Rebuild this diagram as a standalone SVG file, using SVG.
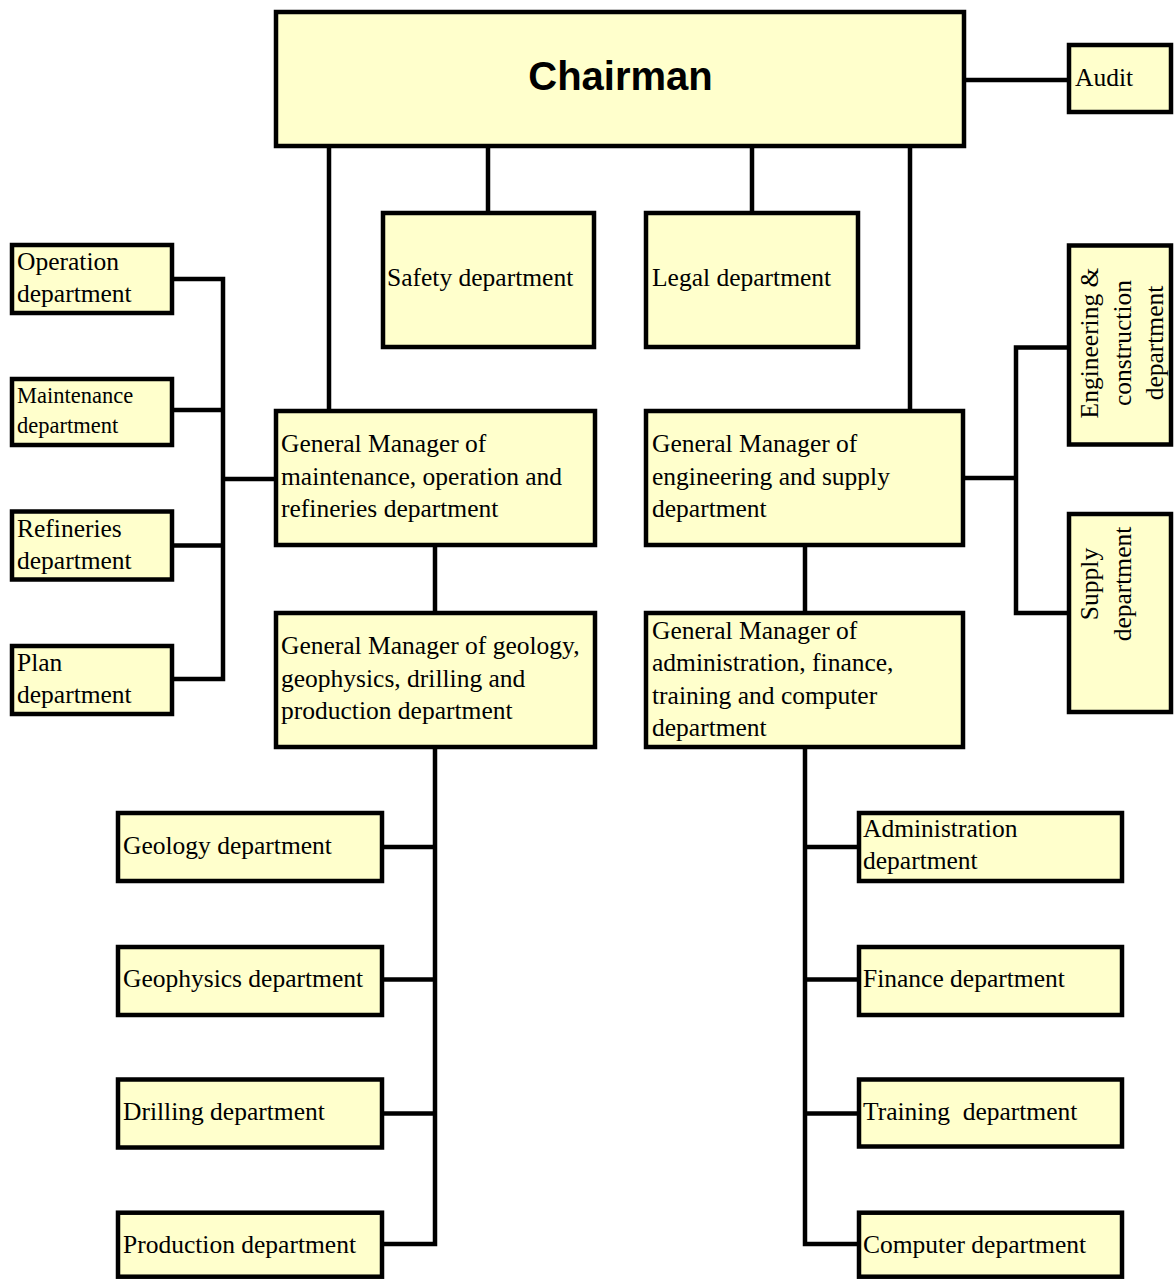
<svg xmlns="http://www.w3.org/2000/svg" width="1174" height="1279" viewBox="0 0 1174 1279">
  <style>
    .box { fill: #FFFFCC; stroke: #000; stroke-width: 4.5; }
    .lnk { fill: none; stroke: #000; stroke-width: 4.5; stroke-linejoin: miter; stroke-linecap: butt; }
    .t { font-family: "Liberation Serif", "Times New Roman", serif; font-size: 25.5px; fill: #000; }
    .sm { font-size: 22.5px; }
    .mid { text-anchor: middle; }
    .head { font-family: "Liberation Sans", Arial, sans-serif; font-size: 40px; font-weight: bold; fill: #000; text-anchor: middle; }
  </style>
  <rect width="1174" height="1279" fill="#fff"/>

  <!-- connectors -->
  <g id="connectors">
    <path class="lnk" d="M329 146 V411"/>
    <path class="lnk" d="M488 146 V213"/>
    <path class="lnk" d="M752 146 V213"/>
    <path class="lnk" d="M910 146 V411"/>
    <path class="lnk" d="M964 80 H1069"/>
    <!-- left bus -->
    <path class="lnk" d="M276 479 H223"/>
    <path class="lnk" d="M172 279 H223 V679 H172"/>
    <path class="lnk" d="M172 410 H223"/>
    <path class="lnk" d="M172 545.5 H223"/>
    <!-- geology branch -->
    <path class="lnk" d="M435 545 V613"/>
    <path class="lnk" d="M435 747 V1244 H382"/>
    <path class="lnk" d="M382 847 H435"/>
    <path class="lnk" d="M382 979.5 H435"/>
    <path class="lnk" d="M382 1113.5 H435"/>
    <!-- administration branch -->
    <path class="lnk" d="M805 545 V613"/>
    <path class="lnk" d="M805 747 V1244 H859"/>
    <path class="lnk" d="M805 847 H859"/>
    <path class="lnk" d="M805 979.5 H859"/>
    <path class="lnk" d="M805 1113.5 H859"/>
    <!-- right bus -->
    <path class="lnk" d="M963 478 H1016"/>
    <path class="lnk" d="M1069 347.5 H1016 V613 H1069"/>
  </g>

  <g id="chairman">
    <rect class="box" x="276" y="12" width="688" height="134"/>
    <text class="head" x="620.5" y="90">Chairman</text>
  </g>
  <g id="audit">
    <rect class="box" x="1069" y="45" width="102" height="67"/>
    <text class="t" x="1075" y="86">Audit</text>
  </g>
  <g id="safety">
    <rect class="box" x="383" y="213" width="211" height="134"/>
    <text class="t" x="387" y="286">Safety department</text>
  </g>
  <g id="legal">
    <rect class="box" x="646" y="213" width="212" height="134"/>
    <text class="t" x="652" y="286">Legal department</text>
  </g>

  <g id="operation">
    <rect class="box" x="12" y="245" width="160" height="68"/>
    <text class="t" x="17" y="270">Operation</text>
    <text class="t" x="17" y="302">department</text>
  </g>
  <g id="maintenance">
    <rect class="box" x="12" y="379" width="160" height="66"/>
    <text class="t sm" x="17" y="403">Maintenance</text>
    <text class="t sm" x="17" y="432.5">department</text>
  </g>
  <g id="refineries">
    <rect class="box" x="12" y="511.5" width="160" height="68"/>
    <text class="t" x="17" y="536.5">Refineries</text>
    <text class="t" x="17" y="569">department</text>
  </g>
  <g id="plan">
    <rect class="box" x="12" y="646" width="160" height="68"/>
    <text class="t" x="17" y="670.5">Plan</text>
    <text class="t" x="17" y="702.5">department</text>
  </g>

  <g id="gm-maintenance">
    <rect class="box" x="276" y="411" width="319" height="134"/>
    <text class="t" x="281" y="452">General Manager of</text>
    <text class="t" x="281" y="484.5">maintenance, operation and</text>
    <text class="t" x="281" y="517">refineries department</text>
  </g>
  <g id="gm-engineering">
    <rect class="box" x="646" y="411" width="317" height="134"/>
    <text class="t" x="652" y="452">General Manager of</text>
    <text class="t" x="652" y="484.5">engineering and supply</text>
    <text class="t" x="652" y="517">department</text>
  </g>
  <g id="gm-geology">
    <rect class="box" x="276" y="613" width="319" height="134"/>
    <text class="t" x="281" y="654">General Manager of geology,</text>
    <text class="t" x="281" y="686.5">geophysics, drilling and</text>
    <text class="t" x="281" y="719">production department</text>
  </g>
  <g id="gm-administration">
    <rect class="box" x="646" y="613" width="317" height="134"/>
    <text class="t" x="652" y="638.5">General Manager of</text>
    <text class="t" x="652" y="671">administration, finance,</text>
    <text class="t" x="652" y="703.5">training and computer</text>
    <text class="t" x="652" y="736">department</text>
  </g>

  <g id="engineering-construction">
    <rect class="box" x="1069" y="245.5" width="102" height="199"/>
    <g transform="rotate(-90)">
      <text class="t mid" x="-343" y="1098">Engineering &amp;</text>
      <text class="t mid" x="-343" y="1130.5">construction</text>
      <text class="t mid" x="-343" y="1163">department</text>
    </g>
  </g>
  <g id="supply">
    <rect class="box" x="1069" y="514" width="102" height="198"/>
    <g transform="rotate(-90)">
      <text class="t mid" x="-584" y="1098">Supply</text>
      <text class="t mid" x="-584" y="1130.5">department</text>
    </g>
  </g>

  <g id="geology">
    <rect class="box" x="118" y="813" width="264" height="68"/>
    <text class="t" x="123" y="854">Geology department</text>
  </g>
  <g id="geophysics">
    <rect class="box" x="118" y="947" width="264" height="68"/>
    <text class="t" x="123" y="986.5">Geophysics department</text>
  </g>
  <g id="drilling">
    <rect class="box" x="118" y="1079.5" width="264" height="68"/>
    <text class="t" x="123" y="1120">Drilling department</text>
  </g>
  <g id="production">
    <rect class="box" x="118" y="1212.7" width="264" height="64"/>
    <text class="t" x="123" y="1253.3">Production department</text>
  </g>

  <g id="administration">
    <rect class="box" x="859" y="813" width="263" height="68"/>
    <text class="t" x="863" y="836.7">Administration</text>
    <text class="t" x="863" y="869.3">department</text>
  </g>
  <g id="finance">
    <rect class="box" x="859" y="947" width="263" height="68"/>
    <text class="t" x="863" y="986.5">Finance department</text>
  </g>
  <g id="training">
    <rect class="box" x="859" y="1079.5" width="263" height="67"/>
    <text class="t" x="863" y="1120" xml:space="preserve">Training  department</text>
  </g>
  <g id="computer">
    <rect class="box" x="859" y="1212.7" width="263" height="64"/>
    <text class="t" x="863" y="1253.3">Computer department</text>
  </g>
</svg>
